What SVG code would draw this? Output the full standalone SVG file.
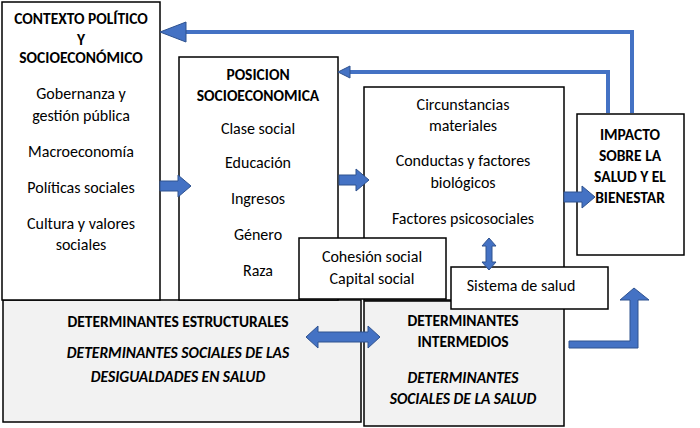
<svg xmlns="http://www.w3.org/2000/svg" width="700" height="428" viewBox="0 0 700 428">
<style>
.b{fill:#fff;stroke:#000;stroke-width:1.5}
.g{fill:#f2f2f2;stroke:#000;stroke-width:1.5}
.t{font-family:Calibri,Carlito,"Liberation Sans",sans-serif;font-size:16px;text-anchor:middle;fill:#000}
.h{font-weight:bold;font-size:15.5px}
.i{font-style:italic;font-weight:bold;font-size:15.5px}
.a{fill:#4472C4;stroke:#2F528F;stroke-width:1}
.l{fill:none;stroke:#4472C4;stroke-width:4}
</style>
<rect width="700" height="428" fill="#fff"/>
<g id="estructurales"><rect class="g" x="3" y="300" width="358" height="122"/>
<text class="t h" x="178" y="327">DETERMINANTES ESTRUCTURALES</text>
<text class="t i" x="178" y="358">DETERMINANTES SOCIALES DE LAS</text>
<text class="t i" x="178" y="382">DESIGUALDADES EN SALUD</text></g>
<g id="intermedios"><rect class="g" x="364" y="301" width="200" height="125"/>
<text class="t h" x="463" y="326">DETERMINANTES</text>
<text class="t h" x="463" y="347">INTERMEDIOS</text>
<text class="t i" x="463" y="383">DETERMINANTES</text>
<text class="t i" x="463" y="404">SOCIALES DE LA SALUD</text></g>
<g id="contexto"><rect class="b" x="2" y="2" width="158" height="298"/>
<text class="t h" x="81" y="24">CONTEXTO POLÍTICO</text>
<text class="t h" x="81" y="45">Y</text>
<text class="t h" x="81" y="63">SOCIOECONÓMICO</text>
<text class="t" x="81" y="99">Gobernanza y</text>
<text class="t" x="81" y="121">gestión pública</text>
<text class="t" x="81" y="157">Macroeconomía</text>
<text class="t" x="81" y="193">Políticas sociales</text>
<text class="t" x="81" y="229">Cultura y valores</text>
<text class="t" x="81" y="250">sociales</text></g>
<g id="posicion"><rect class="b" x="179" y="57" width="159" height="243"/>
<text class="t h" x="258" y="80">POSICION</text>
<text class="t h" x="258" y="101">SOCIOECONOMICA</text>
<text class="t" x="258" y="134">Clase social</text>
<text class="t" x="258" y="168">Educación</text>
<text class="t" x="258" y="204">Ingresos</text>
<text class="t" x="258" y="240">Género</text>
<text class="t" x="258" y="276">Raza</text></g>
<g id="circunstancias"><rect class="b" x="364" y="87" width="200" height="213"/>
<text class="t" x="463" y="110">Circunstancias</text>
<text class="t" x="463" y="131">materiales</text>
<text class="t" x="463" y="166">Conductas y factores</text>
<text class="t" x="463" y="188">biológicos</text>
<text class="t" x="463" y="224">Factores psicosociales</text></g>
<g id="impacto"><rect class="b" x="577" y="114" width="107" height="141"/>
<text class="t h" x="630" y="140">IMPACTO</text>
<text class="t h" x="630" y="161">SOBRE LA</text>
<text class="t h" x="630" y="182">SALUD Y EL</text>
<text class="t h" x="630" y="203">BIENESTAR</text></g>
<g id="cohesion"><rect class="b" x="299" y="238" width="147" height="61"/>
<text class="t" x="372" y="262">Cohesión social</text>
<text class="t" x="372" y="284">Capital social</text></g>
<g id="sistema"><rect class="b" x="451" y="267" width="157" height="42"/>
<text class="t" x="521" y="291">Sistema de salud</text></g>
<g id="connectors">
<polygon class="a" points="160,181 178,181 178,175 191,186 178,197 178,191 160,191"/>
<polygon class="a" points="339,175 356,175 356,169 369,180 356,191 356,185 339,185"/>
<polygon class="a" points="564,192 582,192 582,186 595,197 582,208 582,202 564,202"/>
<polygon class="a" points="306,337 318,326 318,332 368,332 368,326 380,337 368,348 368,342 318,342 318,348"/>
<polygon class="a" points="489,238 496,246 492,246 492,262 496,262 489,270 482,262 486,262 486,246 482,246"/>
<polygon class="a" points="569,341 630,341 630,300 620,300 634,288 649,300 638,300 638,348 569,348"/>
<polyline class="l" points="632,113 632,32 186,32"/>
<polygon class="a" points="160,32 186,22 186,42"/>
<polyline class="l" points="608,113 608,72 348,72"/>
<polygon class="a" points="338,72 350,66 350,78"/>
</g>
</svg>
